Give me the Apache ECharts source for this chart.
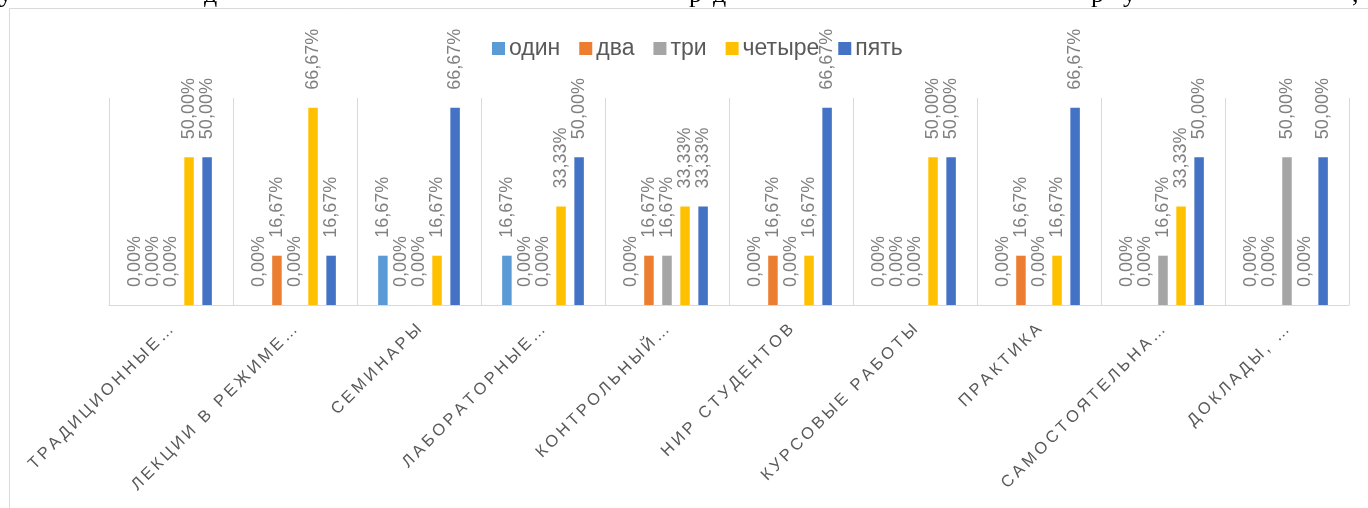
<!DOCTYPE html>
<html>
<head>
<meta charset="utf-8">
<script src="https://cdn.jsdelivr.net/npm/echarts@6/dist/echarts.min.js"></script>
<style>
html,body{margin:0;padding:0;background:#fff;}
#chart{width:1368px;height:508px;}
</style>
</head>
<body>
<div id="chart"></div>
<script>
const categories = ['ТРАДИЦИОННЫЕ…','ЛЕКЦИИ В РЕЖИМЕ…','СЕМИНАРЫ','ЛАБОРАТОРНЫЕ…','КОНТРОЛЬНЫЙ…','НИР СТУДЕНТОВ','КУРСОВЫЕ РАБОТЫ','ПРАКТИКА','САМОСТОЯТЕЛЬНА…','ДОКЛАДЫ, …'];
const seriesNames = ['один','два','три','четыре','пять'];
const odin   = [0, 0,      0.1667, 0.1667, 0,      0,      0,   0,      0,      0];
const dva    = [0, 0.1667, 0,      0,      0.1667, 0.1667, 0,   0.1667, 0,      0];
const tri    = [0, 0,      0,      0,      0.1667, 0,      0,   0,      0.1667, 0.5];
const chetyre= [0.5, 0.6667, 0.1667, 0.3333, 0.3333, 0.1667, 0.5, 0.1667, 0.3333, 0];
const pyat   = [0.5, 0.1667, 0.6667, 0.5, 0.3333, 0.6667, 0.5, 0.6667, 0.5, 0.5];
const colors = ['#5B9BD5','#ED7D31','#A5A5A5','#FFC000','#4472C4'];
const values = [odin, dva, tri, chetyre, pyat];
// cropped fragments of the document line above the chart
const topGlyphs = ['у','д','р','д','р','у',','];

const chart = echarts.init(document.getElementById('chart'), null, {renderer:'canvas'});
const spaced = s => s.split('').join('\u2009');
const fmt = p => (p.value*100).toFixed(2).replace('.', ',') + '%';
const glyphX = [-1, 204, 689, 713, 1091, 1123, 1352];

chart.setOption({
  animation:false,
  color: colors,
  graphic:[{type:'rect', shape:{x:9.5,y:8.5,width:1400,height:600}, style:{fill:'none', stroke:'#d9d9d9', lineWidth:1}, silent:true}]
    .concat(topGlyphs.map((g,i)=>({type:'text', x:glyphX[i], y:8, silent:true,
      style:{text:g, fill:'#000', font:'26px "Liberation Serif"', verticalAlign:'bottom'}}))),
  legend:{
    data: seriesNames, left:487, top:32, itemWidth:13, itemHeight:13, itemGap:19,
    icon:'rect',
    textStyle:{fontFamily:'Liberation Sans', fontSize:23, color:'#595959', padding:[0,0,0,-1]}
  },
  grid:{left:109, right:19, top:98, bottom:203, containLabel:false},
  xAxis:{
    type:'category', data:categories, boundaryGap:true,
    axisLine:{show:true, lineStyle:{color:'#d9d9d9', width:1}},
    axisTick:{show:false},
    splitLine:{show:true, interval:0, lineStyle:{color:'#d9d9d9', width:1}},
    axisLabel:{interval:0, rotate:45, margin:22, fontFamily:'Liberation Sans', fontSize:16.5, color:'#595959', formatter:spaced}
  },
  yAxis:{type:'value', min:0, max:0.7, show:false, splitLine:{show:false}},
  series: seriesNames.map((n,i)=>({
    name:n, type:'bar', data:values[i], barWidth:9.5, barGap:'90%',
    itemStyle:{color:colors[i]},
    label:{show:true, position:'top', rotate:90, align:'left', verticalAlign:'middle', distance:18,
      fontFamily:'Liberation Sans', fontSize:18, color:'#808080', formatter:fmt}
  }))
});
</script>
</body>
</html>
